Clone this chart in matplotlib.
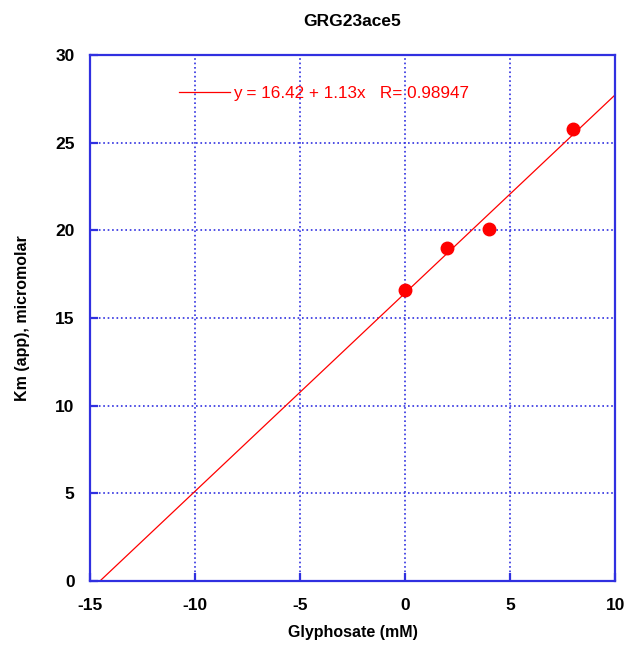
import numpy as np
import matplotlib.pyplot as plt

plt.rcParams['font.family'] = ['Liberation Sans', 'DejaVu Sans']
plt.rcParams['axes.unicode_minus'] = False

glyphosate = [0, 2, 4, 8]
km_app = [16.6, 19.0, 20.1, 25.8]
intercept = 16.42
slope = 1.13
r_value = 0.98947

blue = '#3030e0'
red = '#ff0000'

fig = plt.figure(figsize=(6.29, 6.45), dpi=100)
ax = fig.add_axes([0.143, 0.099, 0.835, 0.816])

x_line = np.linspace(-15, 10, 200)
ax.plot(x_line, intercept + slope * x_line, color=red, lw=0.9,
        label=f'y = {intercept:.2f} + {slope:.2f}x   R= {r_value:.5f}')
ax.plot(glyphosate, km_app, 'o', color=red, ms=9, zorder=5)

ax.set_xlim(-15, 10)
ax.set_ylim(0, 30)
ax.set_xticks(np.arange(-15, 11, 5))
ax.set_yticks(np.arange(0, 31, 5))
ax.grid(True, color=blue, linestyle=':', lw=1.2)

for s in ax.spines.values():
    s.set_color(blue)
    s.set_linewidth(1.6)
ax.tick_params(direction='in', length=6, width=1.6, color=blue,
               labelsize=12.5)
ax.tick_params(axis='x', pad=12)
ax.tick_params(axis='y', pad=11)
for lab in ax.get_xticklabels() + ax.get_yticklabels():
    lab.set_fontweight('bold')

ax.set_title('GRG23ace5', fontsize=12.5, fontweight='bold', pad=21)
ax.set_xlabel('Glyphosate (mM)', fontsize=11.5, fontweight='bold', labelpad=9)
ax.set_ylabel('Km (app), micromolar', fontsize=11.5, fontweight='bold', labelpad=18)

leg = ax.legend(loc='upper left', bbox_to_anchor=(0.14, 0.97), frameon=False,
                handlelength=3.0, handletextpad=0.15, fontsize=12.3)
for t in leg.get_texts():
    t.set_color(red)

fig.savefig('out.png', dpi=100)
